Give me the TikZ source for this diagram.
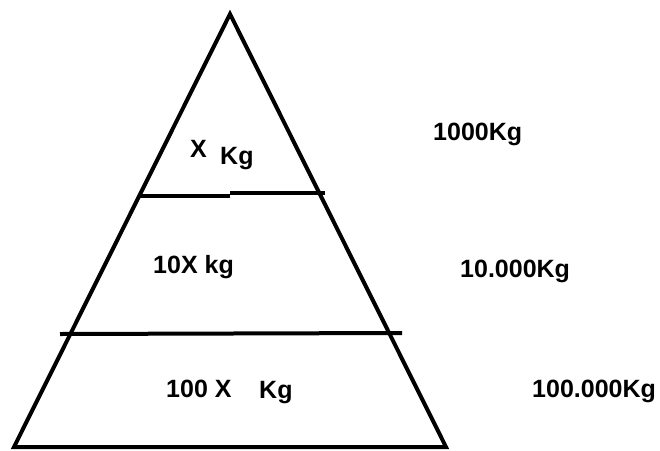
\documentclass[tikz,border=0pt]{standalone}
\usepackage{fontspec}
\setmainfont{Liberation Sans}
\usetikzlibrary{positioning,calc}

\begin{document}
\begin{tikzpicture}[x=1pt,y=-1pt]

	% ============================================================
	% COLORS
	% ============================================================
	\definecolor{ink}{HTML}{000000}

	% ============================================================
	% STYLES
	% ============================================================
	\tikzset{
		edge/.style={draw=ink, line width=4pt, line join=miter},
		layer/.style={draw=ink, line width=4pt},
		lbl/.style={font=\bfseries\fontsize{25}{29}\selectfont, text=ink, inner sep=0pt, anchor=base west}
	}

	% canvas 660 x 450
	\useasboundingbox (0,0) rectangle (660,450);

	% ============================================================
	% PYRAMID
	% ============================================================
	\coordinate (apex)  at (230,14);
	\coordinate (baseL) at (14,447);
	\coordinate (baseR) at (446,447);
	\draw[edge] (baseL) -- (apex) -- (baseR) -- cycle;

	% ============================================================
	% LAYER LINES
	% ============================================================
	\coordinate (topL) at (139,196);
	\coordinate (topM) at (230,196);
	\coordinate (topN) at (230,193);
	\coordinate (topR) at (325,193);
	\draw[layer] (topL) -- (topM);
	\draw[layer] (topN) -- (topR);

	\coordinate (midL) at (60,334);
	\coordinate (midR) at (402,333);
	\draw[layer] (midL) -- (midR);

	% ============================================================
	% LABELS INSIDE
	% ============================================================
	\node[lbl] (topX)   at (190,157) {X};
	\node[lbl] (topKg)  at (220,164) {Kg};
	\node[lbl] (midX)   at (153,273) {10X kg};
	\node[lbl] (lowX)   at (166,397) {100 X};
	\node[lbl] (lowKg)  at (259,398) {Kg};

	% ============================================================
	% LABELS OUTSIDE
	% ============================================================
	\node[lbl] (topVal) at (433,140) {1000Kg};
	\node[lbl] (midVal) at (460,277) {10.000Kg};
	\node[lbl] (lowVal) at (532,397) {100.000Kg};

\end{tikzpicture}
\end{document}
